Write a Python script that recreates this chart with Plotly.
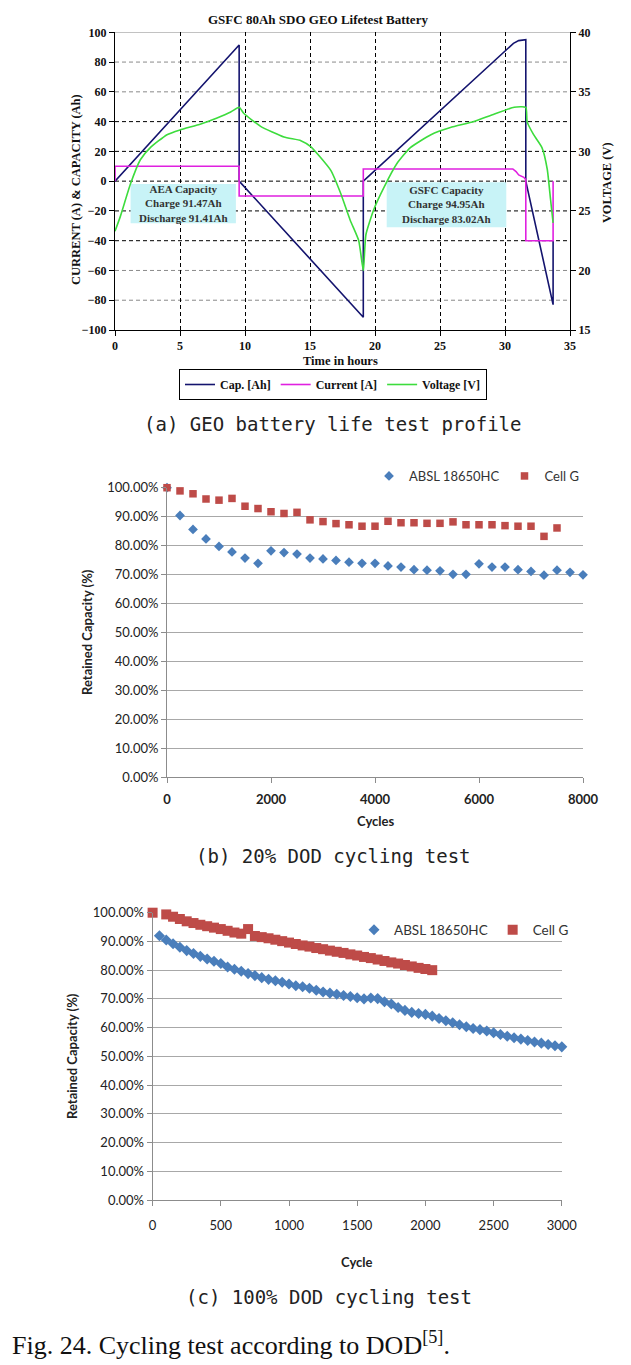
import plotly.graph_objects as go

# ---------------- Panel (a): GEO battery life test profile ----------------
cap_hours = [0, 9.55, 9.55, 19.1, 19.1, 30.15, 30.65, 31.05, 31.6, 31.6, 33.7, 33.7]
cap_ah = [0, 91.5, 0, -91.4, 0, 88.0, 92.6, 94.4, 95.0, 0, -83.0, -40]

cur_hours = [0, 0, 9.55, 9.55, 19.1, 19.1, 30.6, 30.85, 31.05, 31.45, 31.6, 31.6, 33.7, 33.7]
cur_amp = [0, 10, 10, -10, -10, 8.2, 8.2, 6.4, 4.2, 2.6, 1.0, -40, -40, 0]

volt_hours = [0, 0.4, 1.2, 1.95, 2.7, 4.0, 5.0, 6.6, 7.85, 8.9, 9.55, 9.9, 11.2, 13.0,
              14.3, 15.05, 15.8, 16.6, 17.35, 18.1, 18.75, 19.1, 19.3, 19.9, 20.7,
              21.7, 22.7, 24.3, 25.8, 27.6, 29.1, 30.7, 31.6, 31.7, 32.2, 32.85,
              33.25, 33.5, 33.7]
volt_v = [23.3, 24.5, 27.3, 29.3, 30.3, 31.4, 31.8, 32.3, 32.8, 33.3, 33.7, 33.2, 32.1, 31.2,
          30.9, 30.4, 29.5, 28.4, 26.5, 24.2, 22.5, 20.0, 23.0, 25.1, 27.0,
          29.0, 30.3, 31.4, 32.0, 32.5, 33.1, 33.7, 33.7, 32.5, 31.4, 30.3,
          28.5, 26.0, 24.0]

a_x_ticks = [0, 5, 10, 15, 20, 25, 30, 35]
a_y_ticks = [-100, -80, -60, -40, -20, 0, 20, 40, 60, 80, 100]
a_y2_ticks = [15, 20, 25, 30, 35, 40]
a_grid_black = [40, 20, 0, -20, -40]
a_grid_gray = [80, 60, -60, -80]

# ---------------- Panel (b): 20% DOD cycling test ----------------
b_absl_cycles = [0, 250, 500, 750, 1000, 1250, 1500, 1750, 2000, 2250, 2500, 2750, 3000,
                 3250, 3500, 3750, 4000, 4250, 4500, 4750, 5000, 5250, 5500, 5750, 6000,
                 6250, 6500, 6750, 7000, 7250, 7500, 7750, 8000]
b_absl_ret = [100.0, 90.4, 85.6, 82.3, 79.7, 77.8, 75.7, 73.9, 78.2, 77.6, 77.1, 75.7, 75.4,
              74.9, 74.3, 73.9, 73.9, 73.0, 72.6, 71.7, 71.5, 71.3, 70.1, 70.1, 73.7,
              72.6, 72.6, 71.7, 71.1, 69.8, 71.5, 70.8, 69.9]
b_cellg_cycles = [0, 250, 500, 750, 1000, 1250, 1500, 1750, 2000, 2250, 2500, 2750, 3000,
                  3250, 3500, 3750, 4000, 4250, 4500, 4750, 5000, 5250, 5500, 5750, 6000,
                  6250, 6500, 6750, 7000, 7250, 7500]
b_cellg_ret = [100.0, 98.9, 97.9, 96.1, 95.7, 96.3, 93.6, 92.8, 91.7, 91.1, 91.5, 88.9, 88.3,
               87.6, 87.2, 86.7, 86.7, 88.4, 87.9, 87.9, 87.7, 87.7, 88.2, 87.2, 87.2,
               87.2, 86.9, 86.7, 86.7, 83.2, 86.1]

# ---------------- Panel (c): 100% DOD cycling test ----------------
c_absl_cycles = [50, 100, 150, 200, 250, 300, 350, 400, 450, 500, 550, 600, 650, 700, 750,
                 800, 850, 900, 950, 1000, 1050, 1100, 1150, 1200, 1250, 1300, 1350, 1400,
                 1450, 1500, 1550, 1600, 1650, 1700, 1750, 1800, 1850, 1900, 1950, 2000,
                 2050, 2100, 2150, 2200, 2250, 2300, 2350, 2400, 2450, 2500, 2550, 2600,
                 2650, 2700, 2750, 2800, 2850, 2900, 2950, 3000]
c_absl_ret = [92.0, 90.5, 89.2, 88.0, 86.8, 85.8, 84.8, 83.9, 83.1, 82.3, 81.1, 80.3, 79.6,
              78.8, 78.1, 77.4, 76.8, 76.3, 75.8, 75.2, 74.6, 74.2, 73.7, 73.0, 72.4, 72.0,
              71.6, 71.2, 70.8, 70.4, 70.0, 70.3, 70.1, 69.0, 68.2, 67.0, 66.0, 65.3, 64.9,
              64.6, 64.0, 63.2, 62.4, 61.7, 61.0, 60.3, 59.7, 59.3, 58.8, 58.2, 57.6, 57.0,
              56.5, 56.0, 55.5, 55.0, 54.6, 54.1, 53.7, 53.3]
c_cellg_cycles = [0, 100, 150, 200, 250, 300, 350, 400, 450, 500, 550, 600, 650, 700, 750,
                  800, 850, 900, 950, 1000, 1050, 1100, 1150, 1200, 1250, 1300, 1350, 1400,
                  1450, 1500, 1550, 1600, 1650, 1700, 1750, 1800, 1850, 1900, 1950, 2000, 2050]
c_cellg_ret = [100.0, 99.4, 98.6, 97.8, 97.0, 96.4, 95.8, 95.3, 94.8, 94.3, 93.7, 93.1, 92.7,
               94.3, 91.9, 91.5, 91.1, 90.6, 90.1, 89.6, 89.1, 88.6, 88.2, 87.7, 87.3, 86.8,
               86.4, 86.0, 85.5, 85.1, 84.6, 84.2, 83.7, 83.2, 82.7, 82.3, 81.8, 81.3, 80.8,
               80.4, 80.0]

W, H = 631, 1365


def fx(p):
    return p / W


def fy(p):
    return 1 - p / H


SERIF = "Liberation Serif"
SANS = "Lato"
MONO = "DejaVu Sans Mono"
BLUE = "#4a7ebb"
RED = "#be4b48"

fig = go.Figure()

# Panel (a) traces
fig.add_trace(go.Scatter(x=cap_hours, y=cap_ah, mode="lines", name="Cap. [Ah]",
                         line=dict(color="#14146e", width=1.6), xaxis="x", yaxis="y",
                         legend="legend"))
fig.add_trace(go.Scatter(x=cur_hours, y=cur_amp, mode="lines", name="Current [A]",
                         line=dict(color="#e020e0", width=1.6), xaxis="x", yaxis="y",
                         legend="legend"))
fig.add_trace(go.Scatter(x=volt_hours, y=volt_v, mode="lines", name="Voltage [V]",
                         line=dict(color="#3ddc3d", width=1.6, shape="spline", smoothing=0.5),
                         xaxis="x", yaxis="y2", legend="legend"))

# Panel (b) traces
fig.add_trace(go.Scatter(x=b_absl_cycles, y=b_absl_ret, mode="markers", name="ABSL 18650HC",
                         marker=dict(symbol="diamond", size=7.5, color=BLUE),
                         xaxis="x2", yaxis="y3", legend="legend2", cliponaxis=False))
fig.add_trace(go.Scatter(x=b_cellg_cycles, y=b_cellg_ret, mode="markers", name="Cell G",
                         marker=dict(symbol="square", size=7.5, color=RED),
                         xaxis="x2", yaxis="y3", legend="legend2", cliponaxis=False))

# Panel (c) traces
fig.add_trace(go.Scatter(x=c_absl_cycles, y=c_absl_ret, mode="markers", name="ABSL 18650HC",
                         marker=dict(symbol="diamond", size=8.5, color=BLUE),
                         xaxis="x3", yaxis="y4", legend="legend3", cliponaxis=False))
fig.add_trace(go.Scatter(x=c_cellg_cycles, y=c_cellg_ret, mode="markers", name="Cell G",
                         marker=dict(symbol="square", size=10, color=RED),
                         xaxis="x3", yaxis="y4", legend="legend3", cliponaxis=False))

a_tickfont = dict(family=SERIF, size=12, color="#111", weight="bold")
bc_tickfont = dict(family=SANS, size=13, color="#222")

fig.update_layout(
    width=W, height=H, margin=dict(l=0, r=0, t=0, b=0, autoexpand=False),
    paper_bgcolor="white", plot_bgcolor="white",
    xaxis=dict(domain=[fx(115), fx(570)], anchor="y", range=[0, 35], tickvals=a_x_ticks,
               showgrid=True, gridcolor="black", griddash="4px,3px", gridwidth=1,
               zeroline=False, showline=True, linecolor="black", linewidth=1,
               ticks="outside", ticklen=5, tickcolor="black", tickfont=a_tickfont),
    yaxis=dict(domain=[fy(330), fy(32.3)], anchor="x", range=[-100, 100], tickvals=a_y_ticks,
               showgrid=False, zeroline=False, showline=True, linecolor="black", linewidth=1,
               ticks="outside", ticklen=5, tickcolor="black", tickfont=a_tickfont),
    yaxis2=dict(overlaying="y", side="right", anchor="x", range=[15, 40], tickvals=a_y2_ticks,
                showgrid=False, zeroline=False, showline=True, linecolor="black", linewidth=1,
                ticks="outside", ticklen=5, tickcolor="black", tickfont=a_tickfont),
    xaxis2=dict(domain=[fx(167), fx(583)], anchor="y3", range=[0, 8000], dtick=2000,
                showgrid=False, zeroline=False, showline=True, linecolor="#8c8c8c",
                ticks="outside", ticklen=5, tickcolor="#8c8c8c", ticklabelstandoff=5,
                tickfont=dict(family=SANS, size=13, color="#222", weight="bold")),
    yaxis3=dict(domain=[fy(777.3), fy(487.7)], anchor="x2", range=[0, 100], dtick=10,
                tickformat=".2f", ticksuffix="%", showgrid=True, gridcolor="#a8a8a8",
                zeroline=False, showline=True, linecolor="#8c8c8c", ticks="outside",
                ticklen=5, tickcolor="#8c8c8c", tickfont=bc_tickfont),
    xaxis3=dict(domain=[fx(152.6), fx(561.8)], anchor="y4", range=[0, 3000], dtick=500,
                showgrid=False, zeroline=False, showline=True, linecolor="#8c8c8c",
                ticks="outside", ticklen=5, tickcolor="#8c8c8c", ticklabelstandoff=8,
                tickfont=bc_tickfont),
    yaxis4=dict(domain=[fy(1200), fy(912.7)], anchor="x3", range=[0, 100], dtick=10,
                tickformat=".2f", ticksuffix="%", showgrid=True, gridcolor="#a8a8a8",
                zeroline=False, showline=True, linecolor="#8c8c8c", ticks="outside",
                ticklen=5, tickcolor="#8c8c8c", tickfont=bc_tickfont),
    legend=dict(x=fx(333), xanchor="center", y=fy(369), yanchor="top", orientation="h",
                bordercolor="black", borderwidth=1, bgcolor="white",
                font=dict(family=SERIF, size=12, color="#111", weight="bold"),
                itemwidth=30, tracegroupgap=0),
    legend2=dict(x=fx(584), xanchor="right", y=fy(476), yanchor="middle", orientation="h",
                 bgcolor="rgba(0,0,0,0)", font=dict(family=SANS, size=13, color="#333"),
                 itemwidth=30),
    legend3=dict(x=fx(574), xanchor="right", y=fy(930), yanchor="middle", orientation="h",
                 bgcolor="rgba(0,0,0,0)", font=dict(family=SANS, size=13.5, color="#333"),
                 itemwidth=30),
)

shapes = []
for v in a_grid_gray:
    shapes.append(dict(type="line", xref="x domain", yref="y", x0=0, x1=1, y0=v, y1=v,
                       line=dict(color="#8a8a8a", width=1, dash="4px,3px"), layer="below"))
for v in a_grid_black:
    shapes.append(dict(type="line", xref="x domain", yref="y", x0=0, x1=1, y0=v, y1=v,
                       line=dict(color="black", width=1, dash="4px,3px"), layer="below"))
shapes.append(dict(type="line", xref="x domain", yref="y", x0=0, x1=1, y0=100, y1=100,
                   line=dict(color="#9a9a9a", width=1), layer="below"))
# info boxes
shapes.append(dict(type="rect", xref="x", yref="y", x0=1.2, x1=9.3, y0=-28.3, y1=-1.9,
                   fillcolor="#c8f3f7", line=dict(width=0), layer="between"))
shapes.append(dict(type="rect", xref="x", yref="y", x0=20.9, x1=30.1, y0=-31, y1=-0.8,
                   fillcolor="#c8f3f7", line=dict(width=0), layer="between"))
fig.update_layout(shapes=shapes)

box_font = dict(family=SERIF, size=11, color="#333", weight="bold")


def label(text, px, py, font, angle=0, xanchor="center"):
    return dict(text=text, x=fx(px), y=fy(py), xref="paper", yref="paper",
                xanchor=xanchor, yanchor="middle", showarrow=False, textangle=angle,
                font=font)


annotations = [
    dict(text="AEA Capacity<br>Charge 91.47Ah<br>Discharge 91.41Ah", x=5.25, y=-15,
         xref="x", yref="y", xanchor="center", yanchor="middle", showarrow=False,
         font=box_font),
    dict(text="GSFC Capacity<br>Charge 94.95Ah<br>Discharge 83.02Ah", x=25.5, y=-16,
         xref="x", yref="y", xanchor="center", yanchor="middle", showarrow=False,
         font=box_font),
    label("GSFC 80Ah SDO GEO Lifetest Battery", 318, 20,
          dict(family=SERIF, size=13, color="#111", weight="bold")),
    label("CURRENT (A) & CAPACITY (Ah)", 76, 190,
          dict(family=SERIF, size=12.5, color="#111", weight="bold"), angle=-90),
    label("VOLTAGE (V)", 607, 183,
          dict(family=SERIF, size=12.5, color="#111", weight="bold"), angle=-90),
    label("Time in hours", 340, 361,
          dict(family=SERIF, size=12.5, color="#111", weight="bold")),
    label("(a) GEO battery life test profile", 333, 424,
          dict(family=MONO, size=19, color="#222")),
    label("Retained Capacity (%)", 87, 632,
          dict(family=SANS, size=13, color="#222", weight="bold"), angle=-90),
    label("Cycles", 375, 821, dict(family=SANS, size=13, color="#222", weight="bold")),
    label("(b) 20% DOD cycling test", 333, 856, dict(family=MONO, size=19, color="#222")),
    label("Retained Capacity (%)", 72, 1056,
          dict(family=SANS, size=13, color="#222", weight="bold"), angle=-90),
    label("Cycle", 357, 1262, dict(family=SANS, size=13, color="#222", weight="bold")),
    label("(c) 100% DOD cycling test", 329, 1297, dict(family=MONO, size=19, color="#222")),
    label("Fig. 24. Cycling test according to DOD<sup>[5]</sup>.", 10, 1343,
          dict(family=SERIF, size=26, color="#111"), xanchor="left"),
]
fig.update_layout(annotations=annotations)

fig.write_html(
    "out.html",
    config={"displayModeBar": False},
    post_script="document.body.style.margin='0';document.body.style.overflow='hidden';"
                "document.documentElement.style.overflow='hidden';",
)
